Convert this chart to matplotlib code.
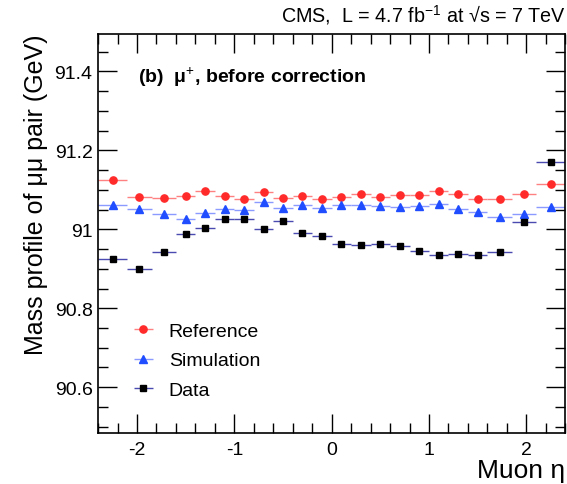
import numpy as np
import matplotlib
matplotlib.use("Agg")
import matplotlib.pyplot as plt
from matplotlib.ticker import MultipleLocator

plt.rcParams['font.family'] = ['Liberation Sans', 'DejaVu Sans']
plt.rcParams['mathtext.fontset'] = 'custom'
plt.rcParams['mathtext.rm'] = 'Liberation Sans'
plt.rcParams['mathtext.it'] = 'Liberation Sans'
plt.rcParams['mathtext.bf'] = 'Liberation Sans:bold'

# eta bin edges (non-uniform at the ends)
edges = [-2.4, -2.1, -1.85, -1.6, -1.4, -1.2, -1.0, -0.8, -0.6, -0.4, -0.2, 0.0,
         0.2, 0.4, 0.6, 0.8, 1.0, 1.2, 1.4, 1.6, 1.85, 2.1, 2.4]

reference = [91.124, 91.082, 91.080, 91.084, 91.096, 91.084, 91.078, 91.095, 91.079, 91.084, 91.078,
             91.082, 91.089, 91.083, 91.087, 91.087, 91.098, 91.089, 91.076, 91.076, 91.090, 91.116]
simulation = [91.061, 91.051, 91.038, 91.025, 91.042, 91.051, 91.048, 91.069, 91.053, 91.062, 91.053,
              91.062, 91.062, 91.059, 91.057, 91.059, 91.065, 91.052, 91.043, 91.032, 91.040, 91.057]
data = [90.926, 90.900, 90.942, 90.988, 91.003, 91.026, 91.025, 91.001, 91.020, 90.991, 90.982,
        90.963, 90.961, 90.963, 90.958, 90.944, 90.935, 90.938, 90.934, 90.943, 91.019, 91.170]

edges = np.array(edges)
centers = 0.5 * (edges[1:] + edges[:-1])
halfw = 0.5 * (edges[1:] - edges[:-1])

fig = plt.figure(figsize=(5.67, 4.85), dpi=100)
ax = fig.add_axes([0.173, 0.106, 0.824, 0.822])

ax.errorbar(centers, reference, xerr=halfw, fmt='o', color='#ff2a2a', ecolor='#ff8080',
            elinewidth=1.0, markersize=5.2, capsize=0, label='Reference')
ax.errorbar(centers, simulation, xerr=halfw, fmt='^', color='#1f4dff', ecolor='#8a9aff',
            elinewidth=1.0, markersize=5.2, capsize=0, label='Simulation')
ax.errorbar(centers, data, xerr=halfw, fmt='s', color='black', ecolor='#4a4ab0',
            elinewidth=1.0, markersize=5, capsize=0, label='Data')

ax.set_xlim(-2.4, 2.4)
ax.set_ylim(90.485, 91.495)
ax.xaxis.set_minor_locator(MultipleLocator(0.2))
ax.yaxis.set_minor_locator(MultipleLocator(0.05))
ax.set_xticks([-2, -1, 0, 1, 2])
ax.set_xticklabels(['-2', '-1', '0', '1', '2'])
ax.set_yticks([90.6, 90.8, 91.0, 91.2, 91.4])
ax.set_yticklabels(['90.6', '90.8', '91', '91.2', '91.4'])
ax.tick_params(which='both', direction='in', top=True, right=True, labelsize=14, width=1)
ax.tick_params(which='major', length=14)
ax.tick_params(axis='x', which='major', pad=6)
ax.tick_params(axis='y', which='major', pad=4)
ax.tick_params(which='minor', length=7)
for s in ax.spines.values():
    s.set_linewidth(1.2)

ax.set_ylabel('Mass profile of μμ pair (GeV)', fontsize=18, loc='top', labelpad=5)
ax.set_xlabel('Muon η', fontsize=19, loc='right', labelpad=0)

ax.text(0.085, 0.894, r'(b)  μ$^{+}$, before correction', transform=ax.transAxes,
        fontsize=14, fontweight='bold', va='center')
fig.text(0.998, 0.968, 'CMS,  L = 4.7 fb$^{-1}$ at √s = 7 TeV', ha='right',
         va='center', fontsize=14.2)

leg = ax.legend(loc='lower left', bbox_to_anchor=(0.022, 0.04), frameon=False, fontsize=14,
                handlelength=1.8, handletextpad=0.4, labelspacing=0.62)

fig.savefig('out.png', dpi=100)
